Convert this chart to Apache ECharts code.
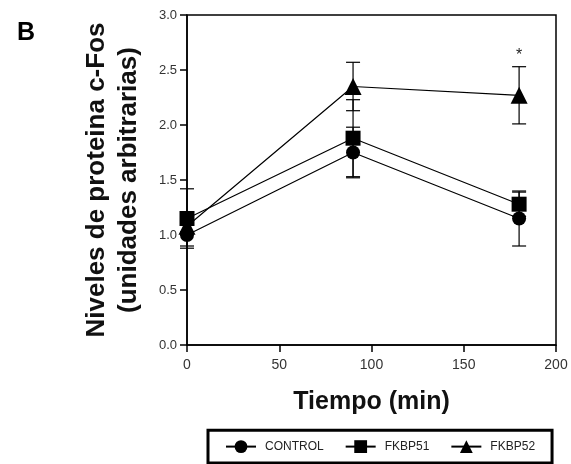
<!DOCTYPE html>
<html>
<head>
<meta charset="utf-8">
<script src="https://cdn.jsdelivr.net/npm/echarts@6/dist/echarts.min.js"></script>
<style>
  html, body { margin: 0; padding: 0; background: #fff; }
  #chart { width: 571px; height: 464px; }
</style>
</head>
<body>
<div id="chart"></div>
<script>
// datos
const tiempos = [0, 90, 180];
const seriesNombres = ['CONTROL', 'FKBP51', 'FKBP52'];
const control = [1.0, 1.75, 1.15];
const controlErr = [0.1, 0.23, 0.25];
const fkbp51 = [1.15, 1.88, 1.28];
const fkbp51Err = [0.27, 0.35, 0.11];
const fkbp52 = [1.08, 2.35, 2.27];
const fkbp52Err = [0.05, 0.22, 0.26];
const simbolos = ['circle', 'rect', 'triangle'];
const tamanos = [14, 15, 17];
const xTicks = [0, 50, 100, 150, 200];
const yTicks = [0, 0.5, 1.0, 1.5, 2.0, 2.5, 3.0];
const asterisco = [180, 2.63];

const FONT = 'Arial, "Liberation Sans", sans-serif';
const chart = echarts.init(document.getElementById('chart'));

const medias = [control, fkbp51, fkbp52];
const errores = [controlErr, fkbp51Err, fkbp52Err];

// barras de error como serie custom
const errorData = [];
medias.forEach((m, s) => {
  m.forEach((v, i) => {
    errorData.push([tiempos[i], v - errores[s][i], v + errores[s][i]]);
  });
});

const series = medias.map((m, s) => ({
  name: seriesNombres[s],
  type: 'line',
  data: m.map((v, i) => [tiempos[i], v]),
  symbol: simbolos[s],
  symbolSize: tamanos[s],
  z: 3,
  lineStyle: { color: '#000', width: 1.2 },
  itemStyle: { color: '#000' },
  animation: false
}));

series[2].markPoint = {
  symbol: 'circle',
  symbolSize: 1,
  itemStyle: { color: 'rgba(0,0,0,0)' },
  data: [{
    coord: asterisco,
    label: { show: true, formatter: '*', color: '#222', fontSize: 16, fontFamily: FONT }
  }]
};

series.push({
  type: 'custom',
  data: errorData,
  z: 2,
  animation: false,
  renderItem: (params, api) => {
    const lo = api.coord([api.value(0), api.value(1)]);
    const hi = api.coord([api.value(0), api.value(2)]);
    const w = 7;
    const style = { stroke: '#000', lineWidth: 1.2 };
    return {
      type: 'group',
      children: [
        { type: 'line', shape: { x1: lo[0], y1: lo[1], x2: hi[0], y2: hi[1] }, style },
        { type: 'line', shape: { x1: lo[0] - w, y1: lo[1], x2: lo[0] + w, y2: lo[1] }, style },
        { type: 'line', shape: { x1: hi[0] - w, y1: hi[1], x2: hi[0] + w, y2: hi[1] }, style }
      ]
    };
  }
});

const option = {
  animation: false,
  title: {
    text: 'B',
    left: 12,
    top: 16,
    textStyle: { fontSize: 25, fontWeight: 'bold', color: '#000', fontFamily: FONT }
  },
  grid: {
    left: 187, right: 15, top: 15, bottom: 119,
    show: true, borderColor: '#000', borderWidth: 1.5,
    containLabel: false
  },
  legend: {
    data: seriesNombres,
    left: 208,
    bottom: 1,
    orient: 'horizontal',
    itemWidth: 30,
    itemHeight: 16,
    itemGap: 21,
    padding: [10, 17, 10, 17],
    borderColor: '#000',
    borderWidth: 3,
    textStyle: { fontSize: 12, color: '#222', fontFamily: FONT, padding: [0, 0, 0, 4] }
  },
  xAxis: {
    type: 'value',
    min: 0, max: 200, interval: 50,
    name: 'Tiempo (min)',
    nameLocation: 'middle',
    nameGap: 45,
    nameTextStyle: { fontSize: 25, fontWeight: 'bold', color: '#111', fontFamily: FONT },
    axisLine: { show: true, lineStyle: { color: '#000', width: 1.5 } },
    axisTick: { show: true, length: 7, lineStyle: { color: '#000', width: 1.5 } },
    axisLabel: { fontSize: 14, color: '#333', fontFamily: FONT, margin: 13,
      formatter: v => xTicks.includes(v) ? String(v) : '' },
    splitLine: { show: false }
  },
  yAxis: {
    type: 'value',
    min: 0, max: 3, interval: 0.5,
    name: 'Niveles de proteina c-Fos\n(unidades arbitrarias)',
    nameLocation: 'middle',
    nameRotate: 90,
    nameGap: 42,
    nameTextStyle: { fontSize: 26, fontWeight: 'bold', color: '#111', fontFamily: FONT, lineHeight: 32 },
    axisLine: { show: true, lineStyle: { color: '#000', width: 1.5 } },
    axisTick: { show: true, length: 7, lineStyle: { color: '#000', width: 1.5 } },
    axisLabel: { fontSize: 13, color: '#333', fontFamily: FONT, margin: 10,
      formatter: v => yTicks.includes(v) ? v.toFixed(1) : '' },
    splitLine: { show: false }
  },
  series: series
};

chart.setOption(option);
</script>
</body>
</html>
